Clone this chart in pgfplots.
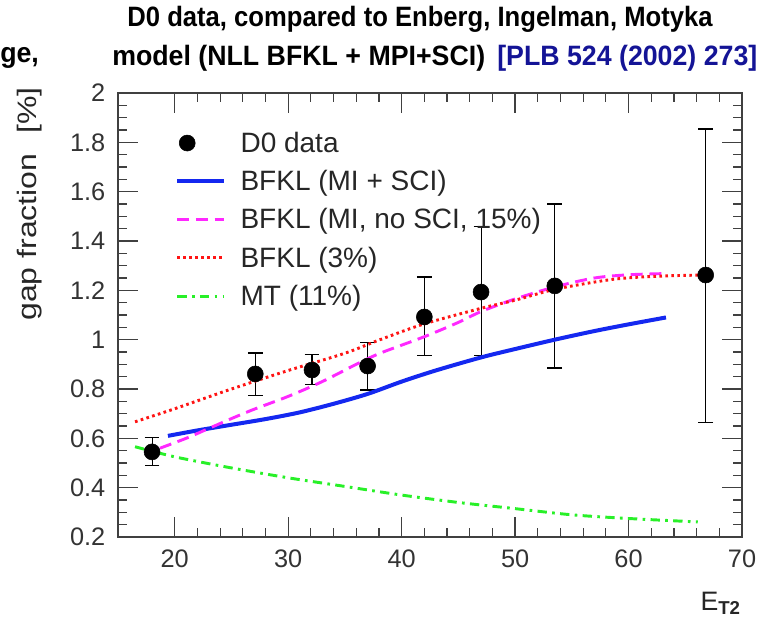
\documentclass[border=0pt]{standalone}
\usepackage{fontspec}
\setmainfont{Liberation Sans}
\newfontfamily\titlefonta[FakeStretch=0.915]{Liberation Sans}
\newfontfamily\titlefontb[FakeStretch=0.955]{Liberation Sans}
\newfontfamily\widefont[FakeStretch=1.2]{Liberation Sans}
\usepackage{pgfplots}
\pgfplotsset{compat=1.18}
\definecolor{mblue}{RGB}{20,40,240}
\definecolor{mmag}{RGB}{255,40,255}
\definecolor{mred}{RGB}{255,20,20}
\definecolor{mgreen}{RGB}{40,240,40}
\definecolor{navy}{RGB}{20,20,150}
\pgfplotstableread{
x y ep em
18.0 0.545 0.060 0.057
27.1 0.861 0.085 0.089
32.1 0.877 0.061 0.057
37.0 0.893 0.097 0.097
42.0 1.092 0.162 0.158
47.0 1.193 0.264 0.259
53.5 1.218 0.332 0.333
66.8 1.262 0.592 0.596
}\dzero
\begin{document}
\begin{tikzpicture}
\path[use as bounding box] (-88.5pt,-62.25pt) rectangle (481.5pt,402.75pt);
\begin{axis}[
  at={(0pt,0pt)}, anchor=south west,
  scale only axis, width=468pt, height=333pt,
  xmin=15, xmax=70, ymin=0.2, ymax=2,
  xtick={20,30,40,50,60,70},
  ytick={0.2,0.4,0.6,0.8,1,1.2,1.4,1.6,1.8,2},
  minor x tick num=4, minor y tick num=3,
  tick align=inside,
  major tick length=15pt, minor tick length=6.75pt,
  every tick/.style={black!75, line width=0.9pt},
  axis line style={black!75, line width=1.1pt},
  /pgf/number format/assume math mode=true,
  ticklabel style={font=\fontsize{19}{22}\selectfont, text=black!80},
  xticklabel style={yshift=-6pt},
  yticklabel style={xshift=-6pt},
  legend style={at={(0.0913,0.919)}, anchor=north west, draw=none, fill=none,
    font=\fontsize{21}{25}\selectfont, row sep=8pt, inner sep=0pt,
    cells={anchor=west}, text=black!85,
    /tikz/every odd column/.append style={column sep=9pt}},
  legend cell align=left,
  legend image code/.code={\draw[#1] (0pt,0pt) -- (35pt,0pt);},
]
\addplot[only marks, mark=*, mark size=6pt, black,
  legend image code/.code={\path[draw=none] (0pt,0pt) -- (35pt,0pt);
    \fill[black] (7.5pt,0pt) circle (6pt);},
  error bars/.cd, y dir=both, y explicit,
  error bar style={black, line width=0.8pt},
  error mark options={rotate=90, mark size=5.5pt, line width=0.8pt, black}]
  table[x=x, y=y, y error plus=ep, y error minus=em]{\dzero};
\addlegendentry{D0 data}
\addplot[mblue, line width=3pt, smooth] coordinates {
(19.4,0.61)(22,0.632)(25,0.655)(28,0.678)(31,0.705)(34,0.74)(37,0.78)(40,0.83)
(43,0.875)(47,0.928)(50,0.962)(53.5,1.0)(57,1.035)(60,1.062)(63.3,1.09)};
\addlegendentry{BFKL (MI + SCI)}
\addplot[mmag, line width=2.2pt, dash pattern=on 9pt off 5pt, smooth] coordinates {
(18.7,0.56)(21,0.6)(23,0.64)(25,0.68)(27,0.718)(30,0.77)(33,0.83)(36,0.9)
(38.1,0.945)(42,1.012)(45,1.07)(47,1.114)(50,1.165)(53.6,1.215)(57,1.25)(60,1.263)(63.3,1.268)};
\addlegendentry{BFKL (MI, no SCI, 15\%)}
\addplot[mred, line width=2.2pt, dash pattern=on 2pt off 2.5pt, smooth] coordinates {
(16.5,0.667)(20,0.72)(25,0.80)(30,0.875)(35,0.945)(38.1,1.0)(42,1.064)(47,1.127)
(50,1.16)(53.6,1.205)(58.7,1.245)(63,1.258)(66.8,1.262)};
\addlegendentry{BFKL (3\%)}
\addplot[mgreen, line width=2.2pt, dash pattern=on 7pt off 4pt on 2pt off 4pt, smooth] coordinates {
(16.5,0.566)(20,0.525)(25,0.48)(30,0.44)(35,0.405)(40,0.37)(45,0.34)(50,0.315)
(55,0.29)(60,0.275)(66.1,0.261)};
\addlegendentry{MT (11\%)}
\end{axis}
\node[font=\titlefonta\bfseries\fontsize{21}{25}\selectfont] at (226.5pt,388.5pt)
  {D0 data, compared to Enberg, Ingelman, Motyka};
\node[font=\titlefontb\bfseries\fontsize{21}{25}\selectfont, anchor=west, inner sep=0pt] at (-4.5pt,359.25pt)
  {model (NLL BFKL + MPI+SCI)};
\node[font=\titlefontb\bfseries\fontsize{21}{25}\selectfont, anchor=west, inner sep=0pt, text=navy] at (284.25pt,359.25pt)
  {[PLB 524 (2002) 273]};
\node[font=\titlefontb\bfseries\fontsize{21}{25}\selectfont, anchor=west, inner sep=0pt] at (-88.5pt,359.25pt)
  {ge,};
\node[rotate=90, font=\widefont\fontsize{20}{24}\selectfont, text=black!85] at (-66pt,249.75pt)
  {gap fraction\hspace{15pt}[\%]};
\node[font=\fontsize{20}{22}\selectfont, text=black!85] at (452pt,-49.5pt)
  {E\textsubscript{\bfseries T2}};
\end{tikzpicture}
\end{document}
